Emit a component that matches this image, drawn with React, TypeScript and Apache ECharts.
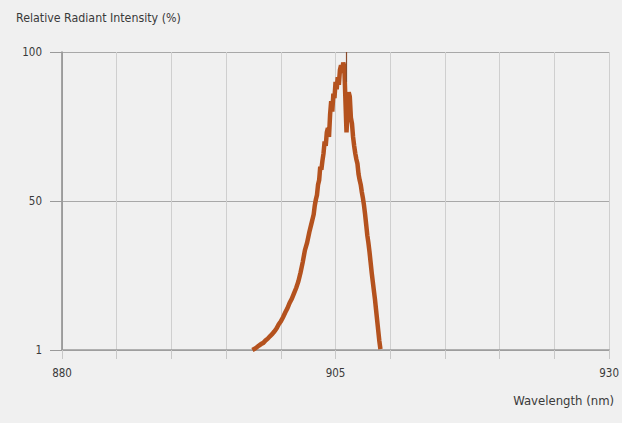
import React, { useEffect, useRef } from "react";
import * as echarts from "echarts";

const title = "Relative Radiant Intensity (%)";
const xTitle = "Wavelength (nm)";
const xLabelsShown = [880, 905, 930];

const wavelengths = [
  897.4, 897.6, 897.8, 898.0, 898.2, 898.4, 898.6, 898.8, 899.0, 899.2,
  899.4, 899.6, 899.8, 900.0, 900.2, 900.4, 900.6, 900.8, 901.0, 901.2,
  901.4, 901.6, 901.8, 902.0, 902.2, 902.4, 902.6, 902.8, 903.0,
  903.1, 903.2, 903.3, 903.4, 903.5, 903.6, 903.7, 903.8, 903.9, 904.0,
  904.1, 904.2, 904.3, 904.4, 904.5, 904.6, 904.7, 904.8, 904.9, 905.0,
  905.1, 905.2, 905.3, 905.4, 905.5, 905.6, 905.7, 905.8, 905.9, 906.0,
  906.1, 906.2, 906.3, 906.4, 906.5, 906.6, 906.7, 906.8, 906.9, 907.0,
  907.1, 907.2, 907.3, 907.4, 907.5, 907.6, 907.7, 907.8, 907.9, 908.0,
  908.1, 908.2, 908.3, 908.4, 908.5, 908.6, 908.7, 908.8, 908.9, 909.0,
  909.1,
];
const intensities = [
  0, 0.4, 0.9, 1.5, 2.0, 2.4, 3.2, 3.8, 4.6, 5.3,
  6.2, 7.2, 8.6, 9.6, 11.0, 12.6, 14.0, 15.8, 17.2, 19.0,
  20.8, 23.0, 26.0, 29.5, 33.5, 36.0, 39.5, 42.5, 45.5,
  48.5, 50.5, 52.0, 55.5, 57.0, 61.5, 60.5, 63.5, 66.0, 70.0,
  68.5, 73.0, 74.5, 71.5, 79.0, 83.5, 80.0, 86.0, 84.5, 90.0,
  87.5, 91.5, 89.0, 94.0, 95.5, 93.0, 96.5, 95.0, 84.0, 73.0,
  80.0, 86.5, 85.0, 78.0, 76.0, 71.5, 68.5, 66.0, 64.0, 62.5,
  59.0, 57.0, 55.5, 53.0, 51.0, 48.5, 45.5, 42.0, 38.5, 36.0,
  33.0, 29.5, 26.0, 23.0, 20.0, 17.0, 13.5, 10.0, 6.5, 3.0,
  0.3,
];

// thin peak marker line
const peakWavelength = [906.0, 906.0];
const peakIntensity = [90, 100];

const FONT = "'DejaVu Sans Condensed', 'Liberation Sans Narrow', 'Open Sans', sans-serif";

export default function App() {
  const ref = useRef<HTMLDivElement>(null);
  useEffect(() => {
    if (!ref.current) return;
    const chart = echarts.init(ref.current, undefined, { renderer: "svg" });
    const data = wavelengths.map((w, i) => [w, intensities[i]]);
    const peak = peakWavelength.map((w, i) => [w, peakIntensity[i]]);
    chart.setOption({
      animation: false,
      backgroundColor: "#f0f0f0",
      textStyle: { fontFamily: FONT },
      title: {
        text: title,
        left: 11,
        top: 7,
        textStyle: { fontFamily: FONT, fontSize: 12.3, fontWeight: "normal", color: "#3a3a3a" },
      },
      grid: { left: 62, right: 9, top: 52, bottom: 73 },
      xAxis: {
        type: "value",
        min: 880,
        max: 930,
        interval: 5,
        name: xTitle,
        nameLocation: "end",
        nameGap: 0,
        nameTextStyle: {
          fontFamily: FONT, fontSize: 13, color: "#3a3a3a",
          align: "right", verticalAlign: "top", padding: [44, -5, 0, 0],
        },
        axisLine: { show: true, onZero: false, lineStyle: { color: "#9a9a9a", width: 1.5 } },
        axisTick: { show: true, length: 9, lineStyle: { color: "#c8c8c8" } },
        axisLabel: {
          fontFamily: FONT, fontSize: 11.5, color: "#3a3a3a", margin: 17,
          formatter: (v: number) => (xLabelsShown.includes(v) ? String(v) : ""),
        },
        splitLine: { show: true, lineStyle: { color: "#cfcfcf", width: 1 } },
      },
      yAxis: {
        type: "value",
        min: 0,
        max: 100,
        interval: 50,
        axisLine: { show: true, lineStyle: { color: "#8a8a8a", width: 1.5 } },
        axisTick: { show: true, length: 12, lineStyle: { color: "#9a9a9a" } },
        axisLabel: {
          fontFamily: FONT, fontSize: 11.5, color: "#3a3a3a", margin: 20,
          formatter: (v: number) => (v === 0 ? "1" : String(v)),
        },
        splitLine: { show: true, lineStyle: { color: "#a8a8a8", width: 1 } },
      },
      series: [
        {
          type: "line",
          data,
          showSymbol: false,
          symbol: "none",
          lineStyle: { color: "#b4521e", width: 4.5, join: "miter" },
          z: 3,
        },
        {
          type: "line",
          data: peak,
          showSymbol: false,
          symbol: "none",
          lineStyle: { color: "#8a4a2a", width: 1.2 },
          z: 4,
        },
      ],
    });
    return () => chart.dispose();
  }, []);
  return (
    <div
      ref={ref}
      style={{ position: "fixed", left: 0, top: 0, width: 622, height: 423 }}
    />
  );
}
